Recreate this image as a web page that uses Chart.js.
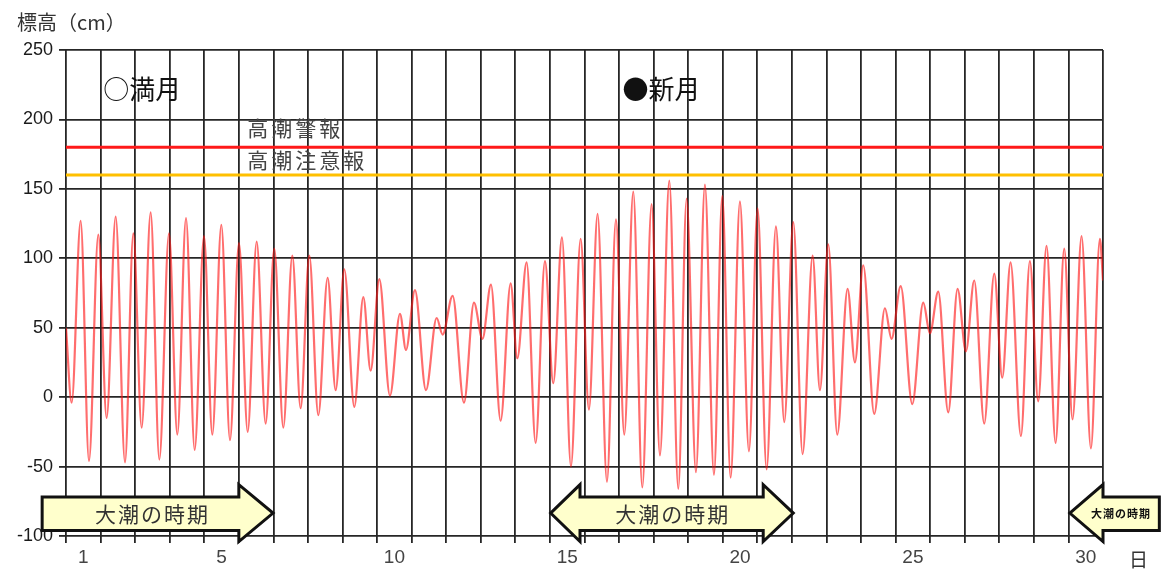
<!DOCTYPE html>
<html>
<head>
<meta charset="utf-8">
<script src="https://cdn.jsdelivr.net/npm/chart.js@4/dist/chart.umd.min.js"></script>
<style>
html, body { margin: 0; padding: 0; background: #fff; }
#wrap { width: 1166px; height: 572px; }
</style>
</head>
<body>
<div id="wrap"><canvas id="tideChart" width="1166" height="572"></canvas></div>
<script>
// 日 (category labels) and the ones that get a label
var days = [1,2,3,4,5,6,7,8,9,10,11,12,13,14,15,16,17,18,19,20,21,22,23,24,25,26,27,28,29,30];
var dayTicks = [1, 5, 10, 15, 20, 25, 30];

// time in days from the start of day 1, and tide level (cm) at each high / low water
var tideT = [0, 0.164, 0.424, 0.665, 0.935, 1.176, 1.437, 1.707, 1.948, 2.189, 2.449, 2.700, 2.980, 3.221, 3.472, 3.722, 3.992, 4.233, 4.494, 4.744, 5.005, 5.256, 5.516, 5.776, 6.025,
    6.287, 6.547, 6.788, 7.039, 7.299, 7.569, 7.801, 8.051, 8.341, 8.601, 8.813, 9.064, 9.372, 9.662, 9.835, 10.095, 10.414, 10.722, 10.896, 11.185, 11.513, 11.802, 12.048,
    12.294, 12.574, 12.863, 13.056, 13.326, 13.586, 13.856, 14.097, 14.348, 14.608, 14.888, 15.129, 15.379, 15.650, 15.910, 16.151, 16.411, 16.672, 16.941, 17.183, 17.453, 17.713, 17.954,
    18.224, 18.484, 18.745, 18.986, 19.227, 19.497, 19.757, 20.008, 20.268, 20.538, 20.779, 21.040, 21.310, 21.599, 21.811, 22.052, 22.312, 22.611, 22.823, 23.064, 23.382, 23.691, 23.883, 24.148,
    24.482, 24.800, 24.993, 25.234, 25.523, 25.793, 26.034, 26.275, 26.564, 26.854, 27.085, 27.326, 27.625, 27.885, 28.126, 28.367, 28.628, 28.878, 29.119, 29.380, 29.650, 29.910, 30.0];
var tideCm = [50, -4, 127, -46, 117, -15, 130, -47, 118, -22, 133, -45, 118, -27, 129, -38, 116, -27, 124, -31, 111, -25, 112, -19, 107,
    -22, 102, -8, 102, -13, 86, 5, 92, -7, 72, 19, 85, 1, 60, 34, 77, 5, 57, 45, 73, -4, 68, 42,
    81, -17, 82, 28, 97, -33, 98, 10, 115, -50, 114, -9, 132, -61, 128, -27, 148, -65, 139, -42, 156, -66, 143,
    -54, 153, -56, 145, -58, 141, -39, 136, -52, 123, -18, 126, -41, 102, 5, 110, -27, 78, 25, 95, -12, 64, 42, 80,
    -5, 68, 46, 76, -11, 78, 33, 84, -19, 89, 14, 97, -28, 98, -3, 109, -33, 107, -16, 116, -37, 114, 84];

var warningLevel = 180;   // 高潮警報
var advisoryLevel = 160;  // 高潮注意報

var JP = '"Noto Sans CJK JP", sans-serif';

function drawArrow(ctx, pts) {
    ctx.beginPath();
    ctx.moveTo(pts[0][0], pts[0][1]);
    for (var i = 1; i < pts.length; i++) ctx.lineTo(pts[i][0], pts[i][1]);
    ctx.closePath();
    ctx.fillStyle = '#ffffcc';
    ctx.fill();
    ctx.lineWidth = 3;
    ctx.lineJoin = 'miter';
    ctx.strokeStyle = '#111';
    ctx.stroke();
}

var notesPlugin = {
    id: 'tideNotes',
    afterDraw: function (chart) {
        var ctx = chart.ctx;
        var xs = chart.scales.xt, ys = chart.scales.y;
        var X = function (v) { return xs.getPixelForValue(v); };
        var Y = function (v) { return ys.getPixelForValue(v); };
        ctx.save();
        ctx.textBaseline = 'middle';

        // 軸タイトル
        ctx.fillStyle = '#333';
        ctx.font = '20px ' + JP;
        ctx.textAlign = 'left';
        ctx.fillText('標高（cm）', 17, 22);
        ctx.font = '19px ' + JP;
        ctx.fillText('日', 1129, 560);

        // 月齢
        ctx.fillStyle = '#111';
        ctx.font = '26px ' + JP;
        ctx.fillText('○満月', X(1.08), Y(222));
        ctx.fillText('●新月', X(16.1), Y(222));

        // 警報ラベル
        ctx.fillStyle = '#444';
        ctx.font = '21px ' + JP;
        ctx.letterSpacing = '3px';
        ctx.fillText('高潮警報', X(5.24), Y(194));
        ctx.fillText('高潮注意報', X(5.24), Y(171));
        ctx.letterSpacing = '0px';

        // 大潮の時期 arrows
        var bt = Y(-72), bb = Y(-96), ht = Y(-63), hb = Y(-104), yc = Y(-83.5);
        drawArrow(ctx, [[X(-0.69), bt], [X(5.0), bt], [X(5.0), ht], [X(5.99), yc], [X(5.0), hb], [X(5.0), bb], [X(-0.69), bb]]);
        drawArrow(ctx, [[X(14.02), yc], [X(14.87), ht], [X(14.87), bt], [X(20.17), bt], [X(20.17), ht], [X(21.04), yc],
            [X(20.17), hb], [X(20.17), bb], [X(14.87), bb], [X(14.87), hb]]);
        drawArrow(ctx, [[X(29.04), yc], [X(30.0), ht], [X(30.0), bt], [X(31.63), bt], [X(31.63), bb], [X(30.0), bb], [X(30.0), hb]]);

        ctx.fillStyle = '#333';
        ctx.textAlign = 'center';
        ctx.font = '21px ' + JP;
        ctx.letterSpacing = '2px';
        ctx.fillText('大潮の時期', X(2.5), yc + 1);
        ctx.fillText('大潮の時期', X(17.55), yc + 1);
        ctx.fillStyle = '#111';
        ctx.font = 'bold 11px ' + JP;
        ctx.letterSpacing = '1px';
        ctx.textAlign = 'left';
        ctx.fillText('大潮の時期', 1091, yc + 1);
        ctx.restore();
    }
};

var tidePoints = tideT.map(function (t, i) { return { x: t, y: tideCm[i] }; });

new Chart(document.getElementById('tideChart').getContext('2d'), {
    type: 'line',
    data: {
        datasets: [{
            data: tidePoints,
            xAxisID: 'xt',
            borderColor: 'rgba(255, 20, 20, 0.62)',
            borderWidth: 2.2,
            pointRadius: 0,
            cubicInterpolationMode: 'monotone',
            fill: false
        }, {
            data: [{ x: 0, y: warningLevel }, { x: 30, y: warningLevel }],
            xAxisID: 'xt',
            borderColor: '#ff1a1a',
            borderWidth: 3,
            pointRadius: 0
        }, {
            data: [{ x: 0, y: advisoryLevel }, { x: 30, y: advisoryLevel }],
            xAxisID: 'xt',
            borderColor: '#ffc000',
            borderWidth: 3,
            pointRadius: 0
        }]
    },
    options: {
        responsive: false,
        animation: false,
        devicePixelRatio: 1,
        layout: { padding: { left: 0, top: 50, right: 63, bottom: 0 } },
        plugins: { legend: { display: false }, tooltip: { enabled: false } },
        scales: {
            x: {
                type: 'category',
                labels: days.map(String),
                offset: true,
                grid: { offset: true, color: '#262626', lineWidth: 1.8, tickLength: 7 },
                border: { display: false },
                ticks: {
                    autoSkip: false,
                    maxRotation: 0,
                    padding: 3,
                    color: '#444',
                    font: { family: '"Liberation Sans", Arial, sans-serif', size: 19 },
                    callback: function (value, index) {
                        return dayTicks.indexOf(days[index]) >= 0 ? String(days[index]) : '';
                    }
                },
                afterFit: function (scale) { scale.height = 36; }
            },
            xt: { type: 'linear', display: false, min: 0, max: 30 },
            y: {
                min: -100,
                max: 250,
                grid: { color: '#262626', lineWidth: 1.8, tickLength: 7 },
                border: { display: false },
                ticks: {
                    stepSize: 50,
                    padding: 6,
                    color: '#1a1a1a',
                    font: { family: '"Liberation Sans", Arial, sans-serif', size: 18 }
                },
                afterFit: function (scale) { scale.width = 66; }
            }
        }
    },
    plugins: [notesPlugin]
});
</script>
</body>
</html>
